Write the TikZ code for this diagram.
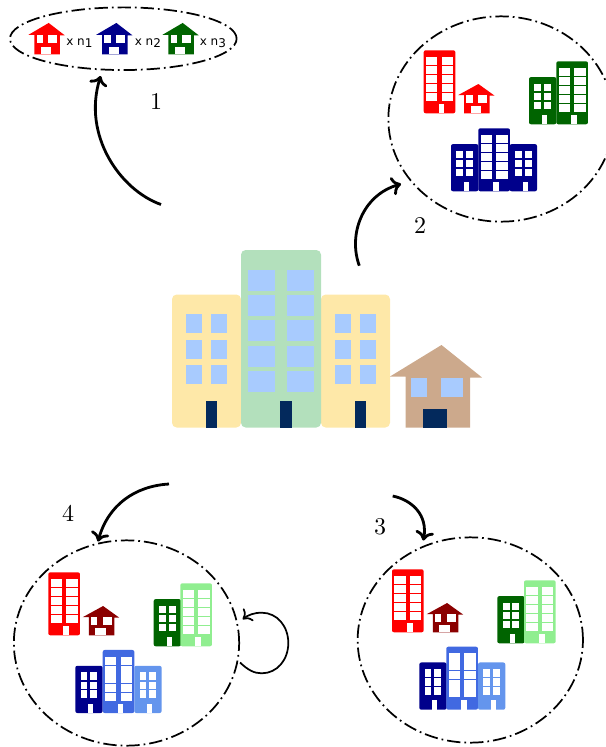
\documentclass[tikz,border=0pt]{standalone}
\usepackage{fontspec}
\newfontfamily\lblfont{DejaVu Sans}
\usetikzlibrary{shapes.geometric,arrows.meta}
\definecolor{bYellow}{HTML}{FEE8A8}
\definecolor{bGreen}{HTML}{B3E0BC}
\definecolor{bWin}{HTML}{A8CBFE}
\definecolor{bDoor}{HTML}{03295C}
\definecolor{bHouse}{HTML}{CCA98C}
\definecolor{cNavy}{HTML}{00008B}
\definecolor{cDGreen}{HTML}{006400}
\definecolor{cRoyal}{HTML}{4169E1}
\definecolor{cCorn}{HTML}{6495ED}
\definecolor{cLGreen}{HTML}{90EE90}
\definecolor{cDRed}{HTML}{8B0000}
\tikzset{
  ring/.style={draw=black,shape=ellipse,line width=1.3pt,inner sep=0pt,outer sep=0pt,
    dash pattern=on 10pt off 3pt on 1.3pt off 3pt},
  flow/.style={draw=black,line width=2.1pt,-{Computer Modern Rightarrow[length=7pt,width=14pt,line width=2.1pt]}},
  loopflow/.style={draw=black,line width=1.3pt,-{Computer Modern Rightarrow[length=6pt,width=12pt,line width=1.3pt]}},
  numlabel/.style={scale=1.8,inner sep=0pt},
  countlabel/.style={anchor=base west,inner sep=0pt,font=\lblfont\fontsize{9}{11}\selectfont}
}
\newcommand{\setbld}[5]{\def\sxx{#1}\def\syy{#2}\def\rrr{#3}\def\gx{#4}\def\gy{#5}}
\newcommand{\pane}[4]{\fill[#1] ({#2-\gx},{#3-\gy}) rectangle +({2*\gx+#4},{2*\gy+\paneh});}
% x, y of bottom-left corner; body, window, door colours
\newcommand{\towerb}[5]{\begin{scope}[shift={(#1,#2)},xscale=\sxx,yscale=\syy]
  \fill[#3,rounded corners=\rrr] (0,0) rectangle (80,-177.5);
  \def\paneh{21}
  \foreach \t in {-157.5,-132.5,-107.5,-81.5,-56.5}{
    \pane{#4}{7}{\t}{27}
    \pane{#4}{46}{\t}{27}}
  \fill[#5] ({39-\gx},0) rectangle ({51+\gx},-26.5);
\end{scope}}
\newcommand{\midb}[5]{\begin{scope}[shift={(#1,#2)},xscale=\sxx,yscale=\syy]
  \fill[#3,rounded corners=\rrr] (0,0) rectangle (69,-133);
  \def\paneh{19}
  \foreach \t in {-113.5,-87.5,-62.5}{
    \pane{#4}{14}{\t}{16}
    \pane{#4}{39}{\t}{16}}
  \fill[#5] ({34-\gx},0) rectangle ({45+\gx},-26.5);
\end{scope}}
\newcommand{\houseb}[5]{\begin{scope}[shift={(#1,#2)},xscale=\sxx,yscale=\syy]
  \fill[#3] (0,-51) -- (51.5,-82.5) -- (92,-50) -- (80,-50) -- (80,0) -- (15.5,0) -- (15.5,-51) -- cycle;
  \fill[#4] (21,{-49.5-\gy}) rectangle (37,{-30.5+\gy});
  \fill[#4] (51,{-49.5-\gy}) rectangle (73,{-30.5+\gy});
  \fill[#5] ({33-\gx},0) rectangle ({57+\gx},{-18.5-\gy});
\end{scope}}
\begin{document}
\begin{tikzpicture}[x=0.75pt,y=-0.75pt]
\useasboundingbox (0,0) rectangle (606,747);
\clip (0,0) rectangle (606,747);
% central block
\setbld{1}{1}{3.5pt}{0}{0}
\midb{172}{427.5}{bYellow}{bWin}{bDoor}
\midb{321}{427.5}{bYellow}{bWin}{bDoor}
\towerb{241}{427.5}{bGreen}{bWin}{bDoor}
\houseb{390}{427.5}{bHouse}{bWin}{bDoor}
% rings
\node[ring,minimum width=170pt,minimum height=47pt] (ringA) at (123.3,38.7) {};
\node[ring,minimum width=169pt,minimum height=154pt] (ringB) at (501,119) {};
\node[ring,minimum width=169pt,minimum height=154pt] (ringC) at (470.3,640) {};
\node[ring,minimum width=169pt,minimum height=154pt] (ringD) at (126.5,643) {};
% small buildings
\setbld{0.396}{0.355}{1.5pt}{0.8}{1}
% scene 2
\towerb{423.7}{113.3}{red}{white}{white}
\houseb{458}{113.3}{red}{white}{white}
\midb{529}{124.3}{cDGreen}{white}{white}
\towerb{556.3}{124.3}{cDGreen}{white}{white}
\midb{451}{191.3}{cNavy}{white}{white}
\towerb{478.3}{191.3}{cNavy}{white}{white}
\midb{509.7}{191.3}{cNavy}{white}{white}
% scene 3
\towerb{392}{632.3}{red}{white}{white}
\houseb{426.7}{632.3}{cDRed}{white}{white}
\midb{497.3}{643.3}{cDGreen}{white}{white}
\towerb{524}{643.3}{cLGreen}{white}{white}
\midb{419.3}{709.7}{cNavy}{white}{white}
\towerb{446.3}{709.7}{cRoyal}{white}{white}
\midb{478}{709.7}{cCorn}{white}{white}
% scene 4
\towerb{48.3}{635.3}{red}{white}{white}
\houseb{82.7}{635.3}{cDRed}{white}{white}
\midb{153.7}{646.3}{cDGreen}{white}{white}
\towerb{180.3}{646.3}{cLGreen}{white}{white}
\midb{75.3}{713}{cNavy}{white}{white}
\towerb{102.7}{713}{cRoyal}{white}{white}
\midb{134.3}{713}{cCorn}{white}{white}
% scene 1
\setbld{0.396}{0.38}{1.5pt}{0.8}{1}
\houseb{28.3}{54.3}{red}{white}{white}
\houseb{96}{54.3}{cNavy}{white}{white}
\houseb{162.3}{54.3}{cDGreen}{white}{white}
\node[countlabel] (countA) at (66,45) {x n\raisebox{-2.2pt}{1}};
\node[countlabel] (countB) at (134.5,45) {x n\raisebox{-2.2pt}{2}};
\node[countlabel] (countC) at (199.5,45) {x n\raisebox{-2.2pt}{3}};
% step labels
\node[numlabel] (numA) at (156,102) {1};
\node[numlabel] (numB) at (420,226) {2};
\node[numlabel] (numC) at (380,527) {3};
\node[numlabel] (numD) at (68,513) {4};
% connector ends
\coordinate (aS) at (161,204.5);
\coordinate (aE) at (100.7,76);
\coordinate (bS) at (359.3,265.7);
\coordinate (bE) at (401,184);
\coordinate (cS) at (392.7,496);
\coordinate (cE) at (423.3,540.5);
\coordinate (dS) at (169,484);
\coordinate (dE) at (98,541.5);
\coordinate (eS) at (240,662.5);
\coordinate (eE) at (242.7,619.3);
\draw[flow] (aS) .. controls (120,190) and (82,135) .. (aE);
\draw[flow] (bS) .. controls (348,235) and (362,195) .. (bE);
\draw[flow] (cS) .. controls (412,500) and (428,515) .. (cE);
\draw[flow] (dS) .. controls (135,486) and (108,505) .. (dE);
\draw[loopflow] (eS) .. controls (248,670) and (254,673.3) .. (261.7,673.3)
  .. controls (277,673.3) and (288.3,660) .. (288.3,643)
  .. controls (288.3,626) and (277,612.7) .. (261.7,612.7)
  .. controls (254,612.7) and (248,615) .. (eE);
\end{tikzpicture}
\end{document}
